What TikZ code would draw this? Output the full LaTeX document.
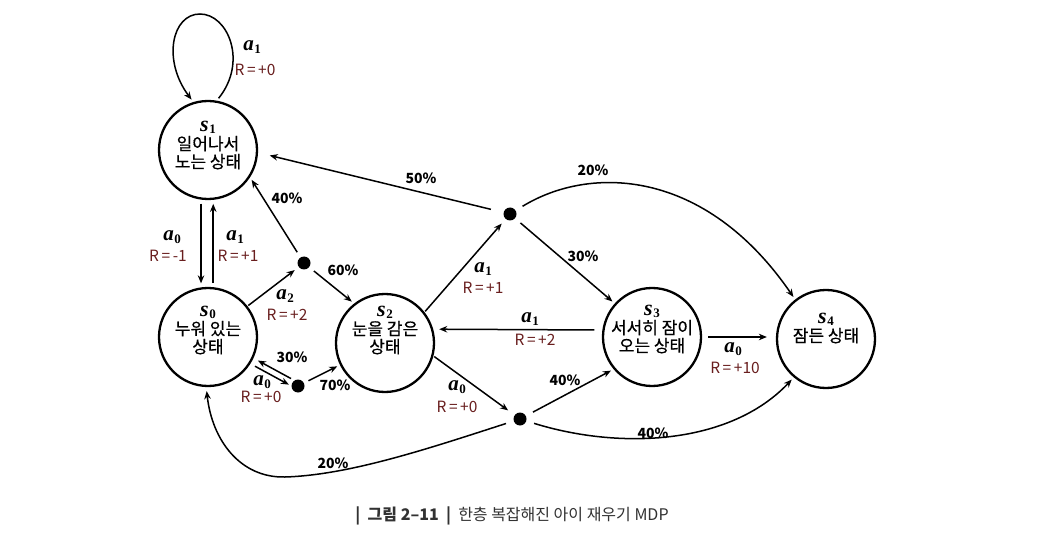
\documentclass[tikz,border=0pt]{standalone}
\usepackage[no-math]{fontspec}
\setmainfont{Noto Sans CJK KR}
\newfontfamily\krb[FakeBold=0.5]{Noto Sans CJK KR}
\newfontfamily\lserif{Liberation Serif}
\usetikzlibrary{arrows.meta,calc}
\definecolor{rcol}{RGB}{105,30,30}
\definecolor{capgray}{RGB}{50,50,50}
\newcommand\rlab[1]{\textcolor{rcol}{R\kern2.6pt=\kern2.6pt#1}}
\newcommand\avar[2]{{\lserif\bfseries\itshape #1}\kern0.5pt\raisebox{-2.5pt}{\lserif\bfseries\fontsize{13}{13}\selectfont #2}}
\newcommand\slabsz{\fontsize{22}{22}\selectfont}
\tikzset{
  state/.style={circle, draw, line width=2.3pt, minimum size=98pt, inner sep=0pt},
  stxt/.style={align=center, inner sep=0pt, font=\fontsize{17}{18}\selectfont\krb},
  dot/.style={circle, fill, minimum size=13pt, inner sep=0pt},
  arr/.style={-{Stealth[length=8pt,width=6.5pt]}, line width=1.5pt},
  pct/.style={inner sep=1pt, font=\fontsize{14}{16}\selectfont\bfseries},
  act/.style={inner sep=0pt, font=\fontsize{21}{21}\selectfont},
  rw/.style={inner sep=0pt, font=\fontsize{15.5}{16}\selectfont},
}
\begin{document}
\begin{tikzpicture}[x=1pt,y=-1pt]
\useasboundingbox (0,0) rectangle (1038,545);
\fill[white] (0,0) rectangle (1038,545);

% states
\node[state] (s1) at (208,150) {};
\node[state] (s0) at (208,337) {};
\node[state] (s2) at (385,343) {};
\node[state] (s3) at (652,337) {};
\node[state] (s4) at (826,339) {};
\node[stxt] (t1) at (208,145) {{\slabsz\avar{s}{1}}\\[1pt]일어나서\\노는 상태};
\node[stxt] (t0) at (208,330) {{\slabsz\avar{s}{0}}\\[1pt]누워 있는\\상태};
\node[stxt] (t2) at (385,330) {{\slabsz\avar{s}{2}}\\[1pt]눈을 감은\\상태};
\node[stxt] (t3) at (652,329) {{\slabsz\avar{s}{3}}\\[1pt]서서히 잠이\\오는 상태};
\node[stxt] (t4) at (826,328) {{\slabsz\avar{s}{4}}\\[1pt]잠든 상태};

% chance nodes
\node[dot] (d1) at (304,263) {};
\node[dot] (d2) at (298,386) {};
\node[dot] (d3) at (510,214) {};
\node[dot] (d4) at (520,419) {};

% edges
\draw[arr,shorten <=3pt,shorten >=3pt] (s1.80) .. controls (248,62) and (228,14) .. (200,14) .. controls (172,14) and (162,60) .. (s1.107);
\draw[arr,shorten <=4pt,shorten >=4pt] (s1.262) -- (s0.98);
\draw[arr,shorten <=4pt,shorten >=4pt] (s0.84) -- (s1.276);
\draw[arr,shorten <=1pt,shorten >=5pt] (s0.38) -- (d1);
\draw[arr,shorten <=6pt,shorten >=3pt] (d1) -- (s1.-33);
\draw[arr,shorten <=6pt,shorten >=3pt] (d1) -- (s2.128);
\draw[arr,shorten <=3pt,shorten >=5pt,transform canvas={shift={(1.5,-2.8)}}] (d2) -- (s0);
\draw[arr,shorten <=5pt,shorten >=2pt,transform canvas={shift={(-1.5,2.8)}}] (s0) -- (d2);
\draw[arr,shorten <=5pt,shorten >=3pt] (d2) -- (s2.206);
\draw[arr,shorten <=1pt,shorten >=6pt] (s2.38) -- (d3);
\draw[arr,shorten <=13pt,shorten >=12pt] (d3) -- (s1.-3);
\draw[arr,shorten <=7pt,shorten >=3pt] (d3) -- (s3.138);
\draw[arr,shorten <=8pt,shorten >=3pt] (d3) .. controls (590,165) and (705,168) .. (s4.128);
\draw[arr,shorten <=8pt,shorten >=6pt] (s3.172) -- (s2.16);
\draw[arr,shorten <=1pt,shorten >=8pt] (s2.-15) -- (d4);
\draw[arr,shorten <=8pt,shorten >=3pt] (d4) -- (s3.220);
\draw[arr,shorten <=8pt,shorten >=3pt] (d4) .. controls (620,450) and (730,445) .. (s4.230);
\draw[arr,shorten <=8pt,shorten >=4pt] (d4) .. controls (430,448) and (350,475) .. (285,477) .. controls (240,478) and (212,440) .. (s0.268);
\draw[arr,shorten <=6pt,shorten >=9pt] (s3.east) -- (s3.east -| s4.west);

% action / reward labels
\node[act] (la1) at (252,47) {\avar{a}{1}};
\node[rw]  (lr1) at (255,70) {\rlab{+0}};
\node[act] (la2) at (172,237) {\avar{a}{0}};
\node[rw]  (lr2) at (168,256) {\rlab{-1}};
\node[act] (la3) at (235,237) {\avar{a}{1}};
\node[rw]  (lr3) at (238,256) {\rlab{+1}};
\node[act] (la4) at (285,296) {\avar{a}{2}};
\node[rw]  (lr4) at (287,315) {\rlab{+2}};
\node[act] (la5) at (262,382) {\avar{a}{0}};
\node[rw]  (lr5) at (261,397) {\rlab{+0}};
\node[act] (la6) at (483,269) {\avar{a}{1}};
\node[rw]  (lr6) at (483,288) {\rlab{+1}};
\node[act] (la7) at (530,319) {\avar{a}{1}};
\node[rw]  (lr7) at (535,340) {\rlab{+2}};
\node[act] (la8) at (457,387) {\avar{a}{0}};
\node[rw]  (lr8) at (457,407) {\rlab{+0}};
\node[act] (la9) at (733,349) {\avar{a}{0}};
\node[rw]  (lr9) at (735,368) {\rlab{+10}};

% probabilities
\node[pct] (p1) at (287,198) {40\%};
\node[pct] (p2) at (343,270) {60\%};
\node[pct] (p3) at (292,357) {30\%};
\node[pct] (p4) at (335,385) {70\%};
\node[pct] (p5) at (421,178) {50\%};
\node[pct] (p6) at (583,256) {30\%};
\node[pct] (p7) at (593,170) {20\%};
\node[pct] (p8) at (565,380) {40\%};
\node[pct] (p9) at (653,433) {40\%};
\node[pct] (p10) at (333,463) {20\%};

% caption
\node[font=\fontsize{16}{18}\selectfont, text=capgray] (cap) at (512,516) {\textbf{|\ \ 그림 2–11\ \ |}\ \ 한층 복잡해진 아이 재우기 MDP};
\end{tikzpicture}
\end{document}
